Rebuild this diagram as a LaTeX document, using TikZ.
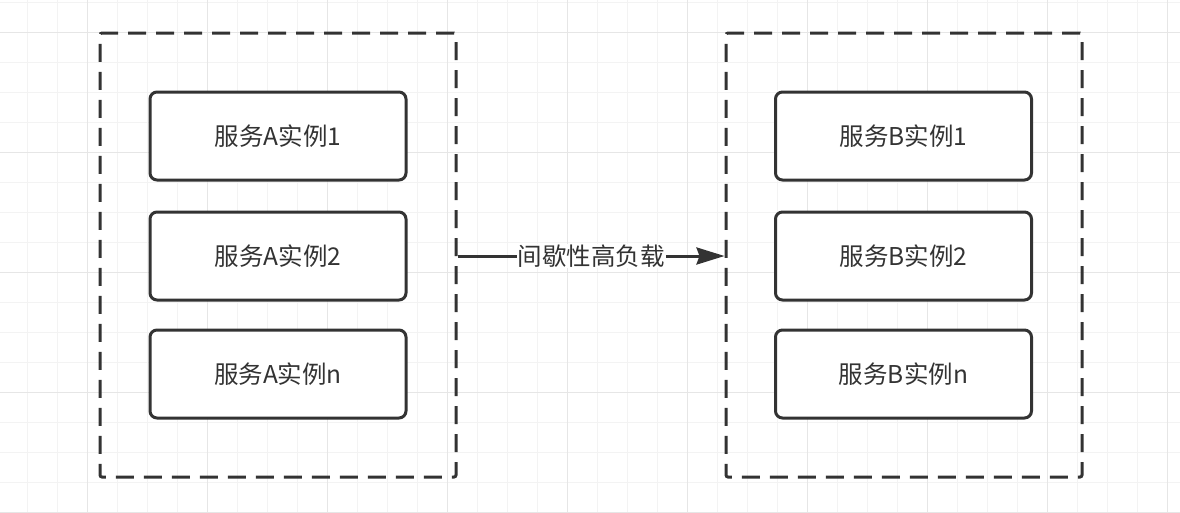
\documentclass[tikz,border=0pt]{standalone}
\usepackage{fontspec}
\setmainfont{Noto Sans CJK SC}
\usetikzlibrary{arrows.meta}
\definecolor{ink}{HTML}{333333}
\definecolor{gridminor}{HTML}{F3F3F3}
\definecolor{gridmajor}{HTML}{E6E6E6}
\tikzset{
  groupbox/.style={draw=ink, line width=3pt, dash pattern=on 18pt off 10pt, rounded corners=2pt,
    minimum width=356pt, minimum height=444pt, inner sep=0pt},
  instbox/.style={draw=ink, line width=3pt, rounded corners=7pt, fill=white,
    minimum width=256pt, minimum height=88pt, inner sep=0pt, text=ink,
    font=\fontsize{24.5pt}{28pt}\selectfont},
  flowlabel/.style={fill=white, text=ink, inner sep=1pt, font=\fontsize{24.5pt}{28pt}\selectfont},
  flow/.style={draw=ink, line width=3pt, -{Stealth[length=28pt,width=17pt,inset=3pt]}}
}
\begin{document}
\begin{tikzpicture}[x=1pt,y=-1pt]
\useasboundingbox (0,0) rectangle (1180,512);
\fill[white] (0,0) rectangle (1180,512);
% grid
\foreach \gx in {27,57,...,1177} {\draw[gridminor, line width=1pt] (\gx,0) -- (\gx,512);}
\foreach \gy in {2,32,...,512} {\draw[gridminor, line width=1pt] (0,\gy) -- (1180,\gy);}
\foreach \gx in {87,207,...,1167} {\draw[gridmajor, line width=1pt] (\gx,0) -- (\gx,512);}
\foreach \gy in {32,152,...,512} {\draw[gridmajor, line width=1pt] (0,\gy) -- (1180,\gy);}
% groups
\node[groupbox] (ga) at (278,255) {};
\node[groupbox] (gb) at (904,255) {};
% instances
\node[instbox] (a1) at (278,136) {服务A实例1};
\node[instbox] (a2) at (278,256) {服务A实例2};
\node[instbox] (an) at (278,374) {服务A实例n};
\node[instbox] (b1) at (903.5,136) {服务B实例1};
\node[instbox] (b2) at (903.5,256) {服务B实例2};
\node[instbox] (bn) at (903.5,374) {服务B实例n};
% flow
\draw[flow] (ga.east |- 0,256) -- node[flowlabel] {间歇性高负载} (gb.west |- 0,256);
\end{tikzpicture}
\end{document}
